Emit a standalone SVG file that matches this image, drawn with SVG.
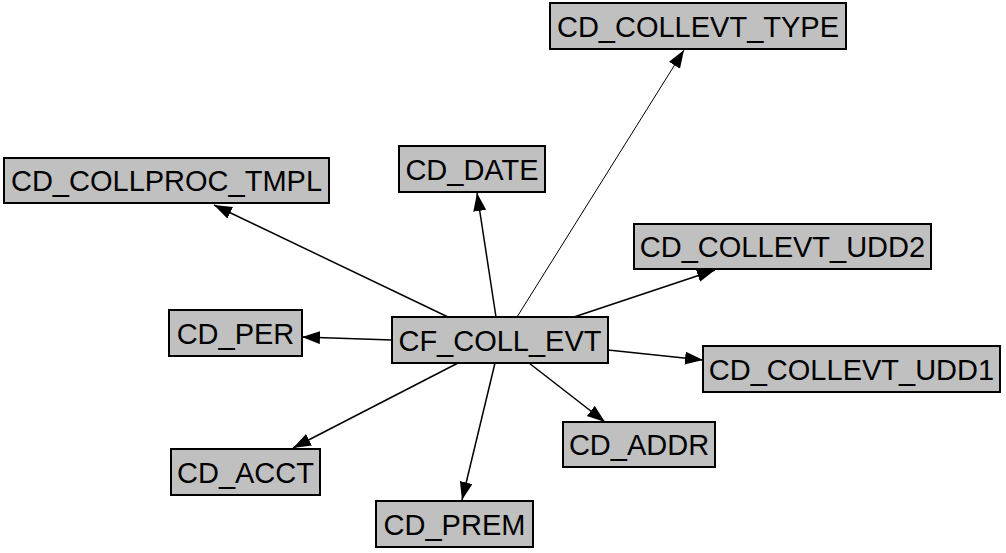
<svg xmlns="http://www.w3.org/2000/svg" width="1006" height="553" viewBox="0 0 1006 553">
<style>
.node rect{fill:#c0c0c0;stroke:#000;stroke-width:2}
.node text{font-family:"Liberation Sans",Arial,sans-serif;font-size:29px;fill:#000;text-anchor:middle}
.edge{stroke:#000;stroke-width:1.5;fill:none;marker-end:url(#arr)}
.thin{stroke-width:1}
</style>
<defs>
<marker id="arr" markerUnits="userSpaceOnUse" markerWidth="19" markerHeight="14" refX="18" refY="6.5" orient="auto">
<path d="M0,0 L18,6.5 L0,13 z" fill="#000"/>
</marker>
</defs>
<rect width="1006" height="553" fill="#fff"/>
<g id="connectors">
<line class="edge thin" x1="517" y1="317" x2="684" y2="50"/>
<line class="edge" x1="448" y1="317" x2="214" y2="205"/>
<line class="edge" x1="496" y1="317" x2="477" y2="193"/>
<line class="edge" x1="392" y1="340" x2="302" y2="337"/>
<line class="edge" x1="574" y1="317" x2="715" y2="270"/>
<line class="edge" x1="608" y1="350" x2="703" y2="360"/>
<line class="edge" x1="529" y1="363" x2="605" y2="422"/>
<line class="edge" x1="458" y1="363" x2="293" y2="448"/>
<line class="edge" x1="495" y1="363" x2="462" y2="500"/>
</g>
<g id="CD_COLLEVT_TYPE" class="node"><rect x="550" y="3" width="296" height="46"/><text x="698" y="36.5">CD_COLLEVT_TYPE</text></g>
<g id="CD_COLLPROC_TMPL" class="node"><rect x="4" y="158" width="325" height="45"/><text x="166.5" y="191">CD_COLLPROC_TMPL</text></g>
<g id="CD_DATE" class="node"><rect x="399" y="146" width="146" height="46"/><text x="472" y="179.5">CD_DATE</text></g>
<g id="CD_COLLEVT_UDD2" class="node"><rect x="634" y="224" width="297" height="45"/><text x="782.5" y="257">CD_COLLEVT_UDD2</text></g>
<g id="CD_PER" class="node"><rect x="169" y="310" width="133" height="46"/><text x="235.5" y="343.5">CD_PER</text></g>
<g id="CF_COLL_EVT" class="node"><rect x="392" y="317" width="216" height="46"/><text x="500" y="350.5">CF_COLL_EVT</text></g>
<g id="CD_COLLEVT_UDD1" class="node"><rect x="703" y="346" width="297" height="46"/><text x="851.5" y="379.5">CD_COLLEVT_UDD1</text></g>
<g id="CD_ADDR" class="node"><rect x="563" y="422" width="152" height="45"/><text x="639" y="455">CD_ADDR</text></g>
<g id="CD_ACCT" class="node"><rect x="171" y="449" width="149" height="46"/><text x="245.5" y="482.5">CD_ACCT</text></g>
<g id="CD_PREM" class="node"><rect x="376" y="501" width="157" height="46"/><text x="454.5" y="534.5">CD_PREM</text></g>
</svg>
